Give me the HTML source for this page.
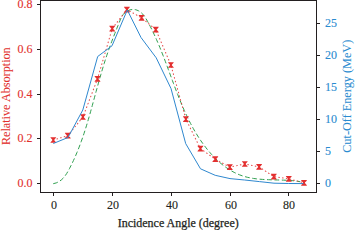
<!DOCTYPE html>
<html><head><meta charset="utf-8"><style>
html,body{margin:0;padding:0;background:#fff;width:355px;height:230px;overflow:hidden}
svg{display:block;font-family:"Liberation Serif",serif} text{stroke:currentColor;stroke-width:0.25px} .tk{stroke-width:0.12px} .yl{stroke-width:0.05px}
</style></head><body>
<svg width="355" height="230" viewBox="0 0 355 230">
<rect x="40.5" y="0.5" width="276" height="192" fill="none" stroke="#231f20" stroke-width="1"/>
<line x1="37" y1="183.50" x2="40.5" y2="183.50" stroke="#231f20" stroke-width="1"/>
<text x="32.5" y="186.70" text-anchor="end" fill="#e2302c" color="#e2302c" font-size="12" class="tk">0.0</text>
<line x1="37" y1="138.50" x2="40.5" y2="138.50" stroke="#231f20" stroke-width="1"/>
<text x="32.5" y="141.70" text-anchor="end" fill="#e2302c" color="#e2302c" font-size="12" class="tk">0.2</text>
<line x1="37" y1="94.50" x2="40.5" y2="94.50" stroke="#231f20" stroke-width="1"/>
<text x="32.5" y="97.70" text-anchor="end" fill="#e2302c" color="#e2302c" font-size="12" class="tk">0.4</text>
<line x1="37" y1="49.50" x2="40.5" y2="49.50" stroke="#231f20" stroke-width="1"/>
<text x="32.5" y="52.70" text-anchor="end" fill="#e2302c" color="#e2302c" font-size="12" class="tk">0.6</text>
<line x1="37" y1="4.50" x2="40.5" y2="4.50" stroke="#231f20" stroke-width="1"/>
<text x="32.5" y="7.70" text-anchor="end" fill="#e2302c" color="#e2302c" font-size="12" class="tk">0.8</text>
<line x1="316.5" y1="183.50" x2="320" y2="183.50" stroke="#231f20" stroke-width="1"/>
<text x="325" y="186.70" class="tk" fill="#2a8bd0" color="#2a8bd0" font-size="12">0</text>
<line x1="316.5" y1="151.50" x2="320" y2="151.50" stroke="#231f20" stroke-width="1"/>
<text x="325" y="154.70" class="tk" fill="#2a8bd0" color="#2a8bd0" font-size="12">5</text>
<line x1="316.5" y1="119.50" x2="320" y2="119.50" stroke="#231f20" stroke-width="1"/>
<text x="325" y="122.70" class="tk" fill="#2a8bd0" color="#2a8bd0" font-size="12">10</text>
<line x1="316.5" y1="87.50" x2="320" y2="87.50" stroke="#231f20" stroke-width="1"/>
<text x="325" y="90.70" class="tk" fill="#2a8bd0" color="#2a8bd0" font-size="12">15</text>
<line x1="316.5" y1="55.50" x2="320" y2="55.50" stroke="#231f20" stroke-width="1"/>
<text x="325" y="58.70" class="tk" fill="#2a8bd0" color="#2a8bd0" font-size="12">20</text>
<line x1="316.5" y1="23.50" x2="320" y2="23.50" stroke="#231f20" stroke-width="1"/>
<text x="325" y="26.70" class="tk" fill="#2a8bd0" color="#2a8bd0" font-size="12">25</text>
<line x1="53.50" y1="192.5" x2="53.50" y2="196" stroke="#231f20" stroke-width="1"/>
<text x="54.00" y="209" text-anchor="middle" class="tk" fill="#231f20" color="#231f20" font-size="12">0</text>
<line x1="112.50" y1="192.5" x2="112.50" y2="196" stroke="#231f20" stroke-width="1"/>
<text x="113.00" y="209" text-anchor="middle" class="tk" fill="#231f20" color="#231f20" font-size="12">20</text>
<line x1="171.50" y1="192.5" x2="171.50" y2="196" stroke="#231f20" stroke-width="1"/>
<text x="172.00" y="209" text-anchor="middle" class="tk" fill="#231f20" color="#231f20" font-size="12">40</text>
<line x1="230.50" y1="192.5" x2="230.50" y2="196" stroke="#231f20" stroke-width="1"/>
<text x="231.00" y="209" text-anchor="middle" class="tk" fill="#231f20" color="#231f20" font-size="12">60</text>
<line x1="288.50" y1="192.5" x2="288.50" y2="196" stroke="#231f20" stroke-width="1"/>
<text x="289.00" y="209" text-anchor="middle" class="tk" fill="#231f20" color="#231f20" font-size="12">80</text>
<text x="178.2" y="226.5" text-anchor="middle" fill="#231f20" color="#231f20" font-size="12" textLength="121" lengthAdjust="spacingAndGlyphs">Incidence Angle (degree)</text>
<text class="yl" transform="translate(10.0,96.2) rotate(-90)" text-anchor="middle" fill="#e2302c" color="#e2302c" font-size="11.5" textLength="97.8" lengthAdjust="spacingAndGlyphs">Relative Absorption</text>
<text class="yl" transform="translate(351.1,96.3) rotate(-90)" text-anchor="middle" fill="#2a8bd0" color="#2a8bd0" font-size="11.5" textLength="113" lengthAdjust="spacingAndGlyphs">Cut-Off Energy (MeV)</text>
<path d="M53.23,183.69 L56.25,182.90 L58.90,181.66 L61.21,180.04 L63.25,178.11 L65.06,175.92 L66.68,173.53 L68.16,171.01 L69.55,168.42 L70.89,165.81 L72.19,163.19 L73.44,160.55 L74.65,157.89 L75.82,155.23 L76.95,152.55 L78.05,149.86 L79.12,147.16 L80.15,144.45 L81.15,141.73 L82.12,139.00 L83.07,136.26 L83.99,133.51 L84.89,130.76 L85.77,127.99 L86.63,125.22 L87.47,122.44 L88.29,119.66 L89.10,116.87 L89.90,114.07 L90.69,111.27 L91.47,108.47 L92.25,105.66 L93.02,102.85 L93.79,100.04 L94.55,97.22 L95.32,94.40 L96.09,91.59 L96.86,88.77 L97.64,85.95 L98.42,83.13 L99.21,80.32 L100.01,77.51 L100.82,74.71 L101.63,71.91 L102.46,69.11 L103.31,66.33 L104.16,63.55 L105.04,60.78 L105.92,58.02 L106.83,55.27 L107.76,52.53 L108.70,49.81 L109.67,47.10 L110.65,44.40 L111.66,41.71 L112.68,39.01 L113.72,36.32 L114.78,33.61 L115.86,30.89 L116.95,28.15 L118.06,25.39 L119.17,22.60 L120.32,19.80 L121.59,17.08 L123.14,14.59 L125.11,12.48 L127.48,10.86 L130.13,9.81 L132.92,9.40 L135.73,9.71 L138.41,10.72 L140.77,12.25 L142.78,14.16 L144.53,16.37 L146.07,18.78 L147.51,21.30 L148.90,23.85 L150.25,26.43 L151.56,29.02 L152.84,31.63 L154.09,34.26 L155.31,36.91 L156.51,39.57 L157.67,42.25 L158.82,44.94 L159.94,47.64 L161.04,50.36 L162.12,53.08 L163.19,55.81 L164.25,58.55 L165.29,61.29 L166.32,64.05 L167.35,66.80 L168.37,69.56 L169.38,72.32 L170.40,75.08 L171.41,77.83 L172.43,80.59 L173.45,83.35 L174.47,86.10 L175.51,88.84 L176.55,91.58 L177.61,94.31 L178.68,97.03 L179.76,99.74 L180.87,102.44 L181.99,105.13 L183.14,107.80 L184.31,110.46 L185.50,113.11 L186.72,115.74 L187.98,118.35 L189.26,120.94 L190.58,123.51 L191.93,126.05 L193.32,128.58 L194.75,131.08 L196.23,133.56 L197.74,136.01 L199.30,138.43 L200.91,140.83 L202.57,143.19 L204.28,145.52 L206.05,147.83 L207.86,150.09 L209.74,152.32 L211.67,154.51 L213.66,156.64 L215.70,158.71 L217.80,160.71 L219.96,162.65 L222.18,164.50 L224.46,166.28 L226.80,167.96 L229.19,169.54 L231.65,171.02 L234.17,172.38 L236.74,173.64 L239.38,174.76 L242.08,175.76 L244.85,176.62 L247.67,177.35 L250.54,177.95 L253.46,178.45 L256.42,178.84 L259.40,179.16 L262.41,179.40 L265.43,179.58 L268.46,179.71 L271.49,179.82 L274.52,179.90 L277.53,179.97 L280.52,180.04 L283.48,180.13 L286.40,180.25 L289.28,180.42 L292.11,180.63 L294.88,180.92 L297.58,181.28 L300.22,181.74" fill="none" stroke="#2f9f4f" stroke-width="1" stroke-dasharray="4.8 2.6"/>
<path d="M53.30,140.00 L67.80,135.70 L82.90,117.00 L97.50,78.90 L112.20,28.60 L126.90,9.60 L141.60,17.80 L155.80,29.60 L170.90,65.00 L185.90,119.20 L200.40,148.60 L215.30,159.20 L229.80,167.10 L244.80,164.00 L259.10,166.90 L273.80,176.60 L288.80,178.80 L304.00,182.80" fill="none" stroke="#e32f2f" stroke-dasharray="0.6 3.2" stroke-linecap="round" stroke-width="1.1" opacity="0.85"/>
<path d="M56.25,137.15 L55.95,137.86 L55.36,138.57 L54.63,139.29 L54.18,140.00 L54.63,140.71 L55.36,141.43 L55.95,142.14 L56.25,142.85 L50.35,142.85 L50.64,142.14 L51.23,141.43 L51.97,140.71 L52.41,140.00 L51.97,139.29 L51.23,138.57 L50.64,137.86 L50.35,137.15 Z" fill="#e32f2f"/>
<path d="M70.75,132.85 L70.45,133.56 L69.86,134.27 L69.13,134.99 L68.69,135.70 L69.13,136.41 L69.86,137.12 L70.45,137.84 L70.75,138.55 L64.85,138.55 L65.14,137.84 L65.73,137.12 L66.47,136.41 L66.91,135.70 L66.47,134.99 L65.73,134.27 L65.14,133.56 L64.85,132.85 Z" fill="#e32f2f"/>
<path d="M85.85,114.15 L85.56,114.86 L84.97,115.58 L84.23,116.29 L83.79,117.00 L84.23,117.71 L84.97,118.42 L85.56,119.14 L85.85,119.85 L79.95,119.85 L80.25,119.14 L80.84,118.42 L81.57,117.71 L82.02,117.00 L81.57,116.29 L80.84,115.58 L80.25,114.86 L79.95,114.15 Z" fill="#e32f2f"/>
<path d="M100.45,76.05 L100.16,76.76 L99.56,77.48 L98.83,78.19 L98.39,78.90 L98.83,79.61 L99.56,80.33 L100.16,81.04 L100.45,81.75 L94.55,81.75 L94.84,81.04 L95.44,80.33 L96.17,79.61 L96.61,78.90 L96.17,78.19 L95.44,77.48 L94.84,76.76 L94.55,76.05 Z" fill="#e32f2f"/>
<path d="M115.15,25.75 L114.86,26.46 L114.27,27.18 L113.53,27.89 L113.09,28.60 L113.53,29.31 L114.27,30.03 L114.86,30.74 L115.15,31.45 L109.25,31.45 L109.55,30.74 L110.14,30.03 L110.87,29.31 L111.31,28.60 L110.87,27.89 L110.14,27.18 L109.55,26.46 L109.25,25.75 Z" fill="#e32f2f"/>
<path d="M129.85,6.75 L129.56,7.46 L128.97,8.17 L128.23,8.89 L127.79,9.60 L128.23,10.31 L128.97,11.03 L129.56,11.74 L129.85,12.45 L123.95,12.45 L124.25,11.74 L124.84,11.03 L125.57,10.31 L126.02,9.60 L125.57,8.89 L124.84,8.17 L124.25,7.46 L123.95,6.75 Z" fill="#e32f2f"/>
<path d="M144.55,14.95 L144.25,15.66 L143.66,16.38 L142.93,17.09 L142.48,17.80 L142.93,18.51 L143.66,19.23 L144.25,19.94 L144.55,20.65 L138.65,20.65 L138.94,19.94 L139.53,19.23 L140.27,18.51 L140.72,17.80 L140.27,17.09 L139.53,16.38 L138.94,15.66 L138.65,14.95 Z" fill="#e32f2f"/>
<path d="M158.75,26.75 L158.46,27.46 L157.87,28.18 L157.13,28.89 L156.69,29.60 L157.13,30.31 L157.87,31.03 L158.46,31.74 L158.75,32.45 L152.85,32.45 L153.15,31.74 L153.74,31.03 L154.47,30.31 L154.92,29.60 L154.47,28.89 L153.74,28.18 L153.15,27.46 L152.85,26.75 Z" fill="#e32f2f"/>
<path d="M173.85,62.15 L173.56,62.86 L172.97,63.58 L172.23,64.29 L171.78,65.00 L172.23,65.71 L172.97,66.42 L173.56,67.14 L173.85,67.85 L167.95,67.85 L168.25,67.14 L168.84,66.42 L169.57,65.71 L170.02,65.00 L169.57,64.29 L168.84,63.58 L168.25,62.86 L167.95,62.15 Z" fill="#e32f2f"/>
<path d="M188.85,116.35 L188.56,117.06 L187.97,117.78 L187.23,118.49 L186.78,119.20 L187.23,119.91 L187.97,120.62 L188.56,121.34 L188.85,122.05 L182.95,122.05 L183.25,121.34 L183.84,120.62 L184.57,119.91 L185.02,119.20 L184.57,118.49 L183.84,117.78 L183.25,117.06 L182.95,116.35 Z" fill="#e32f2f"/>
<path d="M203.35,145.75 L203.06,146.46 L202.47,147.17 L201.73,147.89 L201.28,148.60 L201.73,149.31 L202.47,150.03 L203.06,150.74 L203.35,151.45 L197.45,151.45 L197.75,150.74 L198.34,150.03 L199.07,149.31 L199.52,148.60 L199.07,147.89 L198.34,147.17 L197.75,146.46 L197.45,145.75 Z" fill="#e32f2f"/>
<path d="M218.25,156.35 L217.96,157.06 L217.37,157.77 L216.63,158.49 L216.19,159.20 L216.63,159.91 L217.37,160.62 L217.96,161.34 L218.25,162.05 L212.35,162.05 L212.65,161.34 L213.24,160.62 L213.97,159.91 L214.42,159.20 L213.97,158.49 L213.24,157.77 L212.65,157.06 L212.35,156.35 Z" fill="#e32f2f"/>
<path d="M232.75,164.25 L232.46,164.96 L231.87,165.67 L231.13,166.39 L230.69,167.10 L231.13,167.81 L231.87,168.53 L232.46,169.24 L232.75,169.95 L226.85,169.95 L227.15,169.24 L227.74,168.53 L228.47,167.81 L228.92,167.10 L228.47,166.39 L227.74,165.67 L227.15,164.96 L226.85,164.25 Z" fill="#e32f2f"/>
<path d="M247.75,161.15 L247.46,161.86 L246.87,162.57 L246.13,163.29 L245.69,164.00 L246.13,164.71 L246.87,165.43 L247.46,166.14 L247.75,166.85 L241.85,166.85 L242.15,166.14 L242.74,165.43 L243.47,164.71 L243.92,164.00 L243.47,163.29 L242.74,162.57 L242.15,161.86 L241.85,161.15 Z" fill="#e32f2f"/>
<path d="M262.05,164.05 L261.75,164.76 L261.17,165.47 L260.43,166.19 L259.99,166.90 L260.43,167.61 L261.17,168.33 L261.75,169.04 L262.05,169.75 L256.15,169.75 L256.45,169.04 L257.04,168.33 L257.77,167.61 L258.22,166.90 L257.77,166.19 L257.04,165.47 L256.45,164.76 L256.15,164.05 Z" fill="#e32f2f"/>
<path d="M276.75,173.75 L276.45,174.46 L275.87,175.17 L275.13,175.89 L274.69,176.60 L275.13,177.31 L275.87,178.03 L276.45,178.74 L276.75,179.45 L270.85,179.45 L271.15,178.74 L271.74,178.03 L272.47,177.31 L272.92,176.60 L272.47,175.89 L271.74,175.17 L271.15,174.46 L270.85,173.75 Z" fill="#e32f2f"/>
<path d="M291.75,175.95 L291.45,176.66 L290.87,177.38 L290.13,178.09 L289.69,178.80 L290.13,179.51 L290.87,180.23 L291.45,180.94 L291.75,181.65 L285.85,181.65 L286.15,180.94 L286.74,180.23 L287.47,179.51 L287.92,178.80 L287.47,178.09 L286.74,177.38 L286.15,176.66 L285.85,175.95 Z" fill="#e32f2f"/>
<path d="M306.95,179.95 L306.65,180.66 L306.06,181.38 L305.33,182.09 L304.88,182.80 L305.33,183.51 L306.06,184.23 L306.65,184.94 L306.95,185.65 L301.05,185.65 L301.35,184.94 L301.94,184.23 L302.67,183.51 L303.12,182.80 L302.67,182.09 L301.94,181.38 L301.35,180.66 L301.05,179.95 Z" fill="#e32f2f"/>
<path d="M53.30,143.50 L68.00,137.50 L82.80,110.00 L97.70,56.50 L112.00,45.80 L127.30,10.00 L141.00,37.50 L156.20,57.80 L171.00,88.50 L185.70,143.60 L200.50,168.80 L215.20,175.30 L230.00,178.60 L244.60,180.00 L259.40,181.60 L274.00,183.20 L288.70,183.50 L303.50,183.60" fill="none" stroke="#2f88cf" stroke-width="1" stroke-linejoin="round"/>
</svg>
</body></html>
